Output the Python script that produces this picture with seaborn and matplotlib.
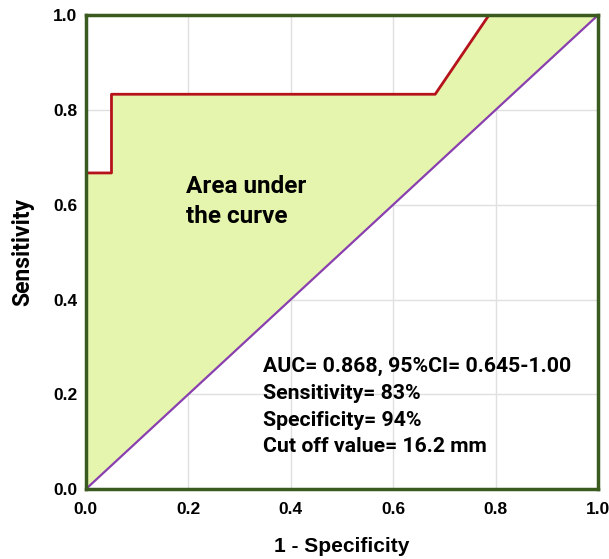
import numpy as np
import pandas as pd
import matplotlib
matplotlib.use("Agg")
import matplotlib.pyplot as plt
import seaborn as sns

# ROC points
fpr = [0.0, 0.0, 0.05, 0.05, 0.682, 0.787, 1.0]
tpr = [0.0, 0.667, 0.667, 0.833, 0.833, 1.0, 1.0]
diag = [0.0, 1.0]
ticks = [0.0, 0.2, 0.4, 0.6, 0.8, 1.0]
area_lines = ["Area under", "the curve"]
stats_lines = ["AUC= 0.868, 95%CI= 0.645-1.00", "Sensitivity= 83%",
               "Specificity= 94%", "Cut off value= 16.2 mm"]

sns.set_style("white", {"text.color": "black", "axes.labelcolor": "black",
                        "xtick.color": "black", "ytick.color": "black"})
plt.rcParams['font.family'] = ['Roboto', 'DejaVu Sans']

fig = plt.figure(figsize=(6.09, 5.59), dpi=100)
ax = fig.add_axes([0.141, 0.125, 0.841, 0.848])

roc = pd.DataFrame({"fpr": fpr, "tpr": tpr})
# fill between the curve and the chance line
ax.fill_between(roc["fpr"], roc["tpr"], roc["fpr"], color="#e5f5ad", lw=0, zorder=1)

sns.lineplot(data=roc, x="fpr", y="tpr", sort=False, estimator=None, color="#b5121b",
             lw=2, ax=ax, zorder=3)
sns.lineplot(x=diag, y=diag, estimator=None, color="#8a3fb0", lw=1.6, ax=ax, zorder=3)

ax.set_xlim(0, 1)
ax.set_ylim(0, 1)
ax.set_xticks(ticks)
ax.set_yticks(ticks)
ax.grid(True, color="#e0e0e0", lw=1, zorder=0)
ax.set_axisbelow(True)
for s in ax.spines.values():
    s.set_color("#3b5a1f")
    s.set_linewidth(2.5)
    s.set_zorder(5)

ax.set_xticklabels([f"{t:.1f}" for t in ticks], family="Liberation Sans", fontweight="bold", fontsize=12.5)
ax.set_yticklabels([f"{t:.1f}" for t in ticks], family="Liberation Sans", fontweight="bold", fontsize=12.5)
ax.tick_params(axis="x", length=0, pad=9)
ax.tick_params(axis="y", length=0, pad=6)

ax.set_xlabel("1 - Specificity", family="Liberation Sans", fontsize=15, fontweight="bold", labelpad=15)
ax.set_ylabel("Sensitivity", fontsize=16.5, fontweight="bold", labelpad=14)

for i, line in enumerate(area_lines):
    ax.text(0.195, 0.6245 - i * 0.063, line, fontsize=17.5, fontweight="bold",
            va="baseline", ha="left", zorder=4)
for i, line in enumerate(stats_lines):
    ax.text(0.346, 0.247 - i * 0.0565, line, fontsize=15.3, fontweight="bold",
            va="baseline", ha="left", zorder=4)

fig.savefig("out.png", dpi=100)
